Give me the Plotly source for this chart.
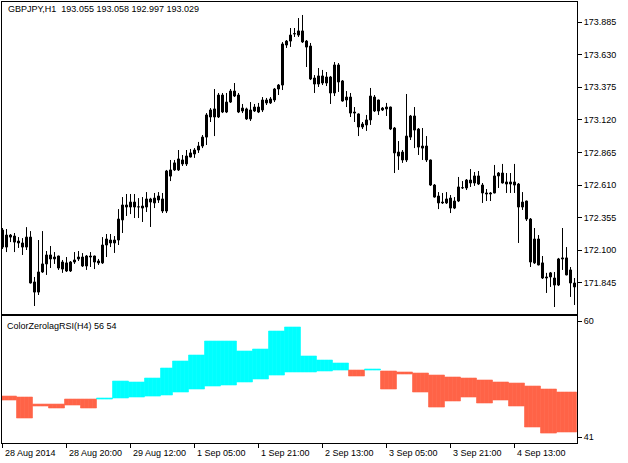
import plotly.graph_objects as go

# GBPJPY H1 candles (one entry per hourly bar, oldest first)
open_ = [
    172.258, 172.125, 172.219, 172.211, 172.172, 172.157, 172.125, 172.203, 171.852, 171.773,
    171.930, 171.993, 172.063, 172.032, 172.055, 171.953, 172.001, 171.938, 172.008, 172.032,
    172.047, 171.977, 172.055, 172.055, 172.016, 172.001, 172.141, 172.180, 172.157, 172.180,
    172.337, 172.454, 172.438, 172.477, 172.438, 172.446, 172.438, 172.501, 172.470, 172.524,
    172.501, 172.407, 172.728, 172.783, 172.728, 172.806, 172.775, 172.829, 172.853, 172.884,
    172.915, 172.985, 173.142, 173.205, 173.142, 173.314, 173.181, 173.259, 173.345, 173.314,
    173.189, 173.205, 173.127, 173.189, 173.220, 173.197, 173.275, 173.252, 173.275, 173.361,
    173.392, 173.736, 173.736, 173.791, 173.783, 173.815, 173.736, 173.697, 173.447, 173.400,
    173.463, 173.408, 173.455, 173.330, 173.549, 173.424, 173.298, 173.298, 173.181, 173.166,
    173.064, 173.080, 173.119, 173.298, 173.275, 173.212, 173.220, 173.220, 173.056, 172.868,
    172.868, 172.806, 172.985, 173.150, 173.048, 172.899, 172.915, 172.806, 172.610, 172.524,
    172.477, 172.470, 172.508, 172.430, 172.485, 172.587, 172.587, 172.649, 172.626, 172.681,
    172.610, 172.548, 172.548, 172.548, 172.681, 172.704, 172.634, 172.618, 172.634, 172.618,
    172.477, 172.485, 172.344, 172.001, 172.188, 172.001, 171.883, 171.891, 171.883, 171.828,
    172.040, 172.040, 171.946, 171.844,
]
high = [
    172.274, 172.266, 172.227, 172.235, 172.203, 172.195, 172.281, 172.250, 171.891, 172.180,
    172.250, 172.094, 172.133, 172.086, 172.058, 172.024, 172.047, 172.016, 172.086, 172.094,
    172.078, 172.063, 172.086, 172.058, 172.032, 172.203, 172.227, 172.227, 172.211, 172.422,
    172.516, 172.540, 172.540, 172.540, 172.508, 172.516, 172.555, 172.510, 172.548, 172.555,
    172.548, 172.728, 172.806, 172.806, 172.884, 172.845, 172.884, 172.892, 172.899, 172.947,
    173.001, 173.173, 173.212, 173.361, 173.330, 173.330, 173.330, 173.361, 173.408, 173.330,
    173.244, 173.215, 173.259, 173.244, 173.252, 173.298, 173.291, 173.298, 173.369, 173.400,
    173.728, 173.744, 173.838, 173.838, 173.916, 173.940, 173.744, 173.721, 173.470, 173.525,
    173.510, 173.494, 173.463, 173.572, 173.564, 173.431, 173.345, 173.330, 173.220, 173.170,
    173.103, 173.158, 173.369, 173.314, 173.278, 173.220, 173.252, 173.223, 173.064, 172.954,
    172.884, 173.322, 173.158, 173.220, 173.056, 173.056, 172.993, 172.809, 172.618, 172.555,
    172.548, 172.555, 172.532, 172.516, 172.673, 172.641, 172.657, 172.735, 172.712, 172.720,
    172.626, 172.579, 172.555, 172.767, 172.712, 172.775, 172.704, 172.704, 172.775, 172.626,
    172.555, 172.488, 172.352, 172.274, 172.219, 172.055, 171.923, 171.930, 171.930, 172.040,
    172.274, 172.125, 171.969, 171.883,
]
low = [
    172.110, 172.086, 172.164, 172.086, 172.118, 172.063, 172.102, 171.840, 171.664, 171.750,
    171.923, 171.907, 171.961, 171.993, 171.946, 171.923, 171.930, 171.930, 171.993, 172.016,
    171.969, 171.946, 171.969, 171.953, 171.985, 171.993, 172.047, 172.125, 172.079, 172.141,
    172.235, 172.368, 172.383, 172.352, 172.352, 172.321, 172.399, 172.282, 172.430, 172.470,
    172.391, 172.391, 172.641, 172.720, 172.720, 172.759, 172.759, 172.826, 172.822, 172.861,
    172.899, 172.923, 173.103, 172.993, 173.134, 173.173, 173.173, 173.252, 173.298, 173.173,
    173.173, 173.119, 173.111, 173.181, 173.173, 173.181, 173.236, 173.244, 173.259, 173.314,
    173.353, 173.682, 173.690, 173.768, 173.768, 173.721, 173.533, 173.431, 173.330, 173.377,
    173.392, 173.384, 173.244, 173.306, 173.338, 173.262, 173.220, 173.142, 173.103, 172.993,
    173.048, 173.033, 173.080, 173.181, 173.158, 173.189, 173.150, 173.040, 172.704, 172.728,
    172.783, 172.790, 172.962, 172.899, 172.845, 172.806, 172.790, 172.603, 172.512, 172.422,
    172.462, 172.462, 172.391, 172.422, 172.477, 172.579, 172.571, 172.595, 172.603, 172.610,
    172.470, 172.485, 172.485, 172.545, 172.587, 172.622, 172.548, 172.548, 172.548, 172.157,
    172.415, 172.329, 171.969, 171.993, 171.982, 171.875, 171.766, 171.813, 171.656, 171.820,
    171.946, 171.904, 171.735, 171.672,
]
close = [
    172.125, 172.219, 172.203, 172.164, 172.157, 172.125, 172.203, 171.844, 171.773, 171.930,
    171.993, 172.063, 172.032, 172.047, 171.961, 172.008, 171.938, 172.008, 172.024, 172.047,
    171.977, 172.055, 172.047, 172.008, 172.001, 172.141, 172.188, 172.157, 172.180, 172.344,
    172.454, 172.438, 172.477, 172.438, 172.440, 172.430, 172.501, 172.477, 172.508, 172.493,
    172.407, 172.720, 172.680, 172.728, 172.814, 172.775, 172.837, 172.861, 172.884, 172.915,
    172.985, 173.158, 173.197, 173.142, 173.314, 173.181, 173.259, 173.345, 173.306, 173.181,
    173.212, 173.127, 173.197, 173.220, 173.181, 173.275, 173.252, 173.283, 173.361, 173.392,
    173.713, 173.705, 173.783, 173.795, 173.815, 173.729, 173.689, 173.439, 173.400, 173.463,
    173.408, 173.455, 173.330, 173.549, 173.416, 173.267, 173.275, 173.173, 173.173, 173.064,
    173.087, 173.119, 173.306, 173.189, 173.189, 173.197, 173.205, 173.048, 172.861, 172.837,
    172.806, 172.993, 173.150, 173.040, 172.907, 172.915, 172.806, 172.610, 172.516, 172.470,
    172.470, 172.501, 172.430, 172.485, 172.595, 172.590, 172.649, 172.626, 172.681, 172.618,
    172.548, 172.540, 172.540, 172.681, 172.704, 172.626, 172.618, 172.634, 172.610, 172.438,
    172.438, 172.344, 172.008, 172.188, 171.985, 171.883, 171.891, 171.923, 171.828, 172.032,
    172.032, 171.907, 171.844, 171.813,
]

# ColorZerolagRSI(H4) projected on H1 bars: fast line and slow line
rsi_fast = [
    47.06, 47.06, 47.06, 47.06,
    44.11, 44.11, 44.11, 44.11,
    46.08, 46.08, 46.08, 46.08,
    45.75, 45.75, 45.75, 45.75,
    46.24, 46.24, 46.24, 46.24,
    45.75, 45.75, 45.75, 45.75,
    47.39, 47.39, 47.39, 47.39,
    50.17, 50.17, 50.17, 50.17,
    50.01, 50.01, 50.01, 50.01,
    50.66, 50.66, 50.66, 50.66,
    52.30, 52.30, 52.30,
    53.45, 53.45, 53.45, 53.45,
    54.43, 54.43, 54.43, 54.43,
    56.72, 56.72, 56.72, 56.72,
    56.72, 56.72, 56.72, 56.72,
    55.09, 55.09, 55.09, 55.09,
    55.41, 55.41, 55.41, 55.41,
    58.36, 58.36, 58.36, 58.36,
    59.02, 59.02, 59.02, 59.02,
    54.27, 54.27, 54.27, 54.27,
    53.61, 53.61, 53.61, 53.61,
    53.12, 53.12, 53.12, 53.12,
    50.99, 50.99, 50.99, 50.99,
    52.14, 52.14, 52.14, 52.14,
    48.86, 48.86, 48.86, 48.86,
    51.32, 51.32, 51.32, 51.32,
    48.37, 48.37, 48.37, 48.37,
    45.91, 45.91, 45.91, 45.91,
    46.90, 46.90, 46.90, 46.90,
    47.55, 47.55, 47.55, 47.55,
    46.57, 46.57, 46.57, 46.57,
    47.06, 47.06, 47.06, 47.06,
    46.08, 46.08, 46.08, 46.08,
    42.64, 42.64, 42.64, 42.64,
    41.65, 41.65, 41.65, 41.65,
    41.82, 41.82, 41.82, 41.82, 41.82,
]
rsi_slow = [
    47.71, 47.71, 47.71, 47.71,
    47.55, 47.55, 47.55, 47.55,
    46.40, 46.40, 46.40, 46.40,
    46.40, 46.40, 46.40, 46.40,
    47.22, 47.22, 47.22, 47.22,
    47.22, 47.22, 47.22, 47.22,
    47.22, 47.22, 47.22, 47.22,
    47.39, 47.39, 47.39, 47.39,
    47.55, 47.55, 47.55, 47.55,
    47.71, 47.71, 47.71, 47.71,
    47.88, 47.88, 47.88,
    48.37, 48.37, 48.37, 48.37,
    48.86, 48.86, 48.86, 48.86,
    49.35, 49.35, 49.35, 49.35,
    49.52, 49.52, 49.52, 49.52,
    50.01, 50.01, 50.01, 50.01,
    50.50, 50.50, 50.50, 50.50,
    51.15, 51.15, 51.15, 51.15,
    51.65, 51.65, 51.65, 51.65,
    51.65, 51.65, 51.65, 51.65,
    51.81, 51.81, 51.81, 51.81,
    51.97, 51.97, 51.97, 51.97,
    51.97, 51.97, 51.97, 51.97,
    51.97, 51.97, 51.97, 51.97,
    51.81, 51.81, 51.81, 51.81,
    51.65, 51.65, 51.65, 51.65,
    51.48, 51.48, 51.48, 51.48,
    51.15, 51.15, 51.15, 51.15,
    50.83, 50.83, 50.83, 50.83,
    50.66, 50.66, 50.66, 50.66,
    50.34, 50.34, 50.34, 50.34,
    50.01, 50.01, 50.01, 50.01,
    49.84, 49.84, 49.84, 49.84,
    49.35, 49.35, 49.35, 49.35,
    48.86, 48.86, 48.86, 48.86,
    48.37, 48.37, 48.37, 48.37, 48.37,
]

price_ticks = [173.885, 173.630, 173.375, 173.120, 172.865, 172.610, 172.355, 172.100, 171.845]
rsi_ticks = [60, 41]
time_tick_bars = [0, 16, 32, 48, 64, 80, 96, 112, 128]
time_tick_labels = ["28 Aug 2014", "28 Aug 20:00", "29 Aug 12:00", "1 Sep 05:00", "1 Sep 21:00",
                    "2 Sep 13:00", "3 Sep 05:00", "3 Sep 21:00", "4 Sep 13:00"]

bars = list(range(len(open_)))
FONT = "Liberation Sans"
W, H = 628, 463
XR = [-0.125, 143.625]  # keeps the 1px wicks on whole pixels

fig = go.Figure()

# wicks first, bodies drawn over them (MT4 style: hollow up bars, solid down bars)
wx, wy = [], []
for i, (hi, lo) in enumerate(zip(high, low)):
    wx += [i, i, None]
    wy += [lo, hi, None]
fig.add_trace(go.Scatter(x=wx, y=wy, mode="lines", line=dict(color="black", width=1),
                         hoverinfo="skip", xaxis="x", yaxis="y"))

body_base = [min(o, c) for o, c in zip(open_, close)]
body_len = [abs(c - o) for o, c in zip(open_, close)]
body_col = ["white" if c >= o else "black" for o, c in zip(open_, close)]
fig.add_trace(go.Bar(x=bars, y=body_len, base=body_base, width=0.5,
                     marker=dict(color=body_col, line=dict(color="black", width=1)),
                     hoverinfo="skip", xaxis="x", yaxis="y"))

# filled band between the two rsi lines, coloured by which line is on top
base = [min(a, b) for a, b in zip(rsi_fast, rsi_slow)]
span = [abs(a - b) for a, b in zip(rsi_fast, rsi_slow)]
cols = ["#00FFFF" if a >= b else "#FF6347" for a, b in zip(rsi_fast, rsi_slow)]
fig.add_trace(go.Bar(x=bars, y=span, base=base, width=1,
                     marker=dict(color=cols, line=dict(color=cols, width=0.6)),
                     hoverinfo="skip", xaxis="x2", yaxis="y2"))

xdom = [2 / W, 577 / W]
ax_common = dict(showgrid=False, zeroline=False, showline=True, mirror=True,
                 linecolor="black", linewidth=1, fixedrange=True)
fig.update_layout(
    width=W, height=H, margin=dict(l=0, r=0, t=0, b=0),
    paper_bgcolor="white", plot_bgcolor="white", showlegend=False, barmode="overlay",
    font=dict(family=FONT, size=9, color="black"),
    xaxis=dict(domain=xdom, range=XR, anchor="y", showticklabels=False, **ax_common),
    yaxis=dict(domain=[1 - 314 / H, 1 - 2 / H], range=[171.6015, 174.0414], side="right",
               tickvals=price_ticks, ticktext=["%.3f" % v for v in price_ticks],
               ticks="outside", ticklen=4, tickcolor="black", anchor="x", **ax_common),
    xaxis2=dict(domain=xdom, range=XR, anchor="y2", tickvals=time_tick_bars,
                ticks="outside", ticklen=4, tickcolor="black", showticklabels=False, **ax_common),
    yaxis2=dict(domain=[1 - 443 / H, 1 - 316 / H], range=[40.02, 60.82], side="right",
                tickvals=rsi_ticks, ticks="outside", ticklen=4, tickcolor="black",
                anchor="x2", **ax_common),
)

fig.add_annotation(text="GBPJPY,H1  193.055 193.058 192.997 193.029", xref="paper", yref="paper",
                   x=6 / W, y=1 - 8.5 / H, xanchor="left", yanchor="middle", showarrow=False)
fig.add_annotation(text="ColorZerolagRSI(H4) 56 54", xref="paper", yref="paper",
                   x=5 / W, y=1 - 326 / H, xanchor="left", yanchor="middle", showarrow=False)
for b, lab in zip(time_tick_bars, time_tick_labels):
    fig.add_annotation(text=lab, xref="x2", yref="paper", x=b, y=1 - 452.5 / H,
                       xanchor="left", yanchor="middle", showarrow=False)

fig.write_html("out.html", config={"displayModeBar": False},
               post_script="document.body.style.margin='0';document.body.style.overflow='hidden';")
